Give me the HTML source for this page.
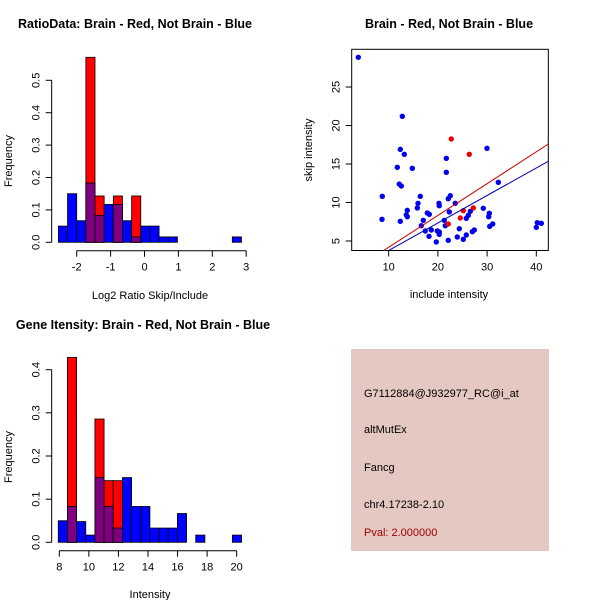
<!DOCTYPE html>
<html><head><meta charset="utf-8"><style>
html,body{margin:0;padding:0;background:#fff;}
svg{display:block;font-family:"Liberation Sans",sans-serif;}
</style></head><body>
<svg id="c" width="600" height="600" xmlns="http://www.w3.org/2000/svg">
<text x="135" y="28" font-size="12.5" font-weight="bold" text-anchor="middle">RatioData: Brain - Red, Not Brain - Blue</text>
<text x="449" y="28" font-size="12.5" font-weight="bold" text-anchor="middle">Brain - Red, Not Brain - Blue</text>
<text x="143" y="329" font-size="12.5" font-weight="bold" text-anchor="middle">Gene Itensity: Brain - Red, Not Brain - Blue</text>
<text x="150" y="299" font-size="11" text-anchor="middle">Log2 Ratio Skip/Include</text>
<text x="449" y="298" font-size="11" text-anchor="middle">include intensity</text>
<text x="150" y="598" font-size="11" text-anchor="middle">Intensity</text>
<text transform="translate(12,161) rotate(-90)" font-size="11" text-anchor="middle">Frequency</text>
<text transform="translate(12,457) rotate(-90)" font-size="11" text-anchor="middle">Frequency</text>
<text transform="translate(312,150) rotate(-90)" font-size="11" text-anchor="middle">skip intensity</text>
<rect x="351" y="349" width="198" height="202" fill="#e6c8c2"/>
<text x="364" y="397" font-size="11">G7112884@J932977_RC@i_at</text>
<text x="364" y="433" font-size="11">altMutEx</text>
<text x="364" y="471" font-size="11">Fancg</text>
<text x="364" y="508" font-size="11">chr4.17238-2.10</text>
<text x="364" y="536" font-size="11" fill="#a00000">Pval: 2.000000</text>
</svg>
<script>
// Ratio histogram data
const ratioStart = -2.54, ratioBinWidth = 0.27;
const ratioBlue = [0.05,0.15,0.0667,0.183,0.083,0.117,0.117,0.0667,0.0167,0.05,0.05,0.0167,0.0167,0,0,0,0,0,0,0.0167];
const ratioRed = [0,0,0,0.571,0.143,0,0.143,0,0.143,0,0,0,0,0,0,0,0,0,0,0];
const ratioXTicks = [-2,-1,0,1,2,3];
const ratioYTicks = [0,0.1,0.2,0.3,0.4,0.5];
// Intensity histogram data
const intStart = 7.93, intBinWidth = 0.62;
const intBlue = [0.05,0.083,0.048,0.0167,0.15,0.083,0.033,0.15,0.083,0.083,0.033,0.033,0.033,0.0667,0,0.0167,0,0,0,0.0167];
const intRed = [0,0.4286,0,0,0.2857,0.1429,0.1429,0,0,0,0,0,0,0,0,0,0,0,0,0];
const intXTicks = [8,10,12,14,16,18,20];
const intYTicks = [0,0.1,0.2,0.3,0.4];
// Scatter data
const blueX = [3.82,12.77,12.36,13.17,11.75,14.8,12.15,12.56,8.7,16.42,8.64,12.36,15.96,15.82,13.78,13.58,13.78,17.85,18.25,17.03,16.63,17.44,18.66,18.19,19.67,19.88,20.28,20.28,20.22,20.28,21.3,21.5,21.71,21.71,22.11,22.52,23.54,22.32,22.11,23.94,24.35,25.16,25.77,25.77,26.18,26.59,27,27.4,29.98,32.28,29.23,30.45,30.33,30.53,31.14,40,40.2,41.02];
const blueY = [28.86,21.19,16.9,16.26,14.57,14.44,12.4,12.14,10.8,10.8,7.82,7.56,9.9,9.29,8.98,8.38,8.16,8.64,8.47,7.69,6.99,6.3,6.43,5.61,4.87,6.3,6.17,5.87,9.9,9.58,7.69,6.99,15.74,13.92,10.49,10.88,9.9,8.77,5.09,5.52,6.6,5.22,5.78,7.95,8.34,8.86,6.21,6.43,17.04,12.62,9.25,8.6,8.16,6.9,7.21,6.77,7.38,7.3];
const redX = [22.72,26.38,27.2,25.16,24.55,22.11];
const redY = [18.25,16.26,9.29,8.94,7.99,7.21];
const lineRed = [0.06,0.413];  // intercept, slope
const lineBlue = [0.2,0.357];
const scXTicks = [10,20,30,40];
const scYTicks = [5,10,15,20,25];

const svg = document.getElementById('c');
const NS = 'http://www.w3.org/2000/svg';
function mk(tag, attrs, parent){
  const e = document.createElementNS(NS, tag);
  for (const k in attrs) e.setAttribute(k, attrs[k]);
  (parent||svg).appendChild(e);
  return e;
}

function hist(opt){
  const {start,bw,blue,red,xt,yt,sx,sy,x0,axY,prefix} = opt;
  const g = mk('g',{});
  
  
  for (let i=0;i<blue.length;i++){
    const a = sx(start+i*bw), b = sx(start+(i+1)*bw);
    const bv = blue[i], rv = red[i], ov = Math.min(bv,rv);
    if (bv>0){
      const r = mk('rect',{x:a,y:sy(bv),width:b-a,height:sy(0)-sy(bv),fill:'#0000ff',stroke:'#000','stroke-width':0.8},g);
      
      
    }
    if (rv>0){
      const r = mk('rect',{x:a,y:sy(rv),width:b-a,height:sy(0)-sy(rv),fill:'#ff0000',stroke:'#000','stroke-width':0.8},g);
      
      
    }
    if (ov>0){
      const r = mk('rect',{x:a,y:sy(ov),width:b-a,height:sy(0)-sy(ov),fill:'#7f007f',stroke:'#000','stroke-width':0.8},g);
      
      
    }
  }
  // y axis
  const ya = mk('line',{x1:x0,x2:x0,y1:sy(yt[0]),y2:sy(yt[yt.length-1]),stroke:'#000'},g);
  
  
  yt.forEach(v=>{
    mk('line',{x1:x0-6,x2:x0,y1:sy(v),y2:sy(v),stroke:'#000'},g);
    const t = mk('text',{transform:`translate(${x0-12},${sy(v)}) rotate(-90)`,'font-size':11,'text-anchor':'middle'},g);
    t.textContent = v.toFixed(1);
    
    
  });
  const xa = mk('line',{x1:sx(xt[0]),x2:sx(xt[xt.length-1]),y1:axY,y2:axY,stroke:'#000'},g);
  
  
  xt.forEach(v=>{
    mk('line',{x1:sx(v),x2:sx(v),y1:axY,y2:axY+6,stroke:'#000'},g);
    const t = mk('text',{x:sx(v),y:axY+20,'font-size':11,'text-anchor':'middle'},g);
    t.textContent = v;
    
    
  });
}

hist({start:ratioStart,bw:ratioBinWidth,blue:ratioBlue,red:ratioRed,xt:ratioXTicks,yt:ratioYTicks,
  sx:v=>76.7+(v+2)*33.9, sy:v=>242.3-v*324, x0:51.7, axY:250.7, prefix:'ratio'});
hist({start:intStart,bw:intBinWidth,blue:intBlue,red:intRed,xt:intXTicks,yt:intYTicks,
  sx:v=>59.3+(v-8)*14.78, sy:v=>542.3-v*431.5, x0:51.7, axY:550.7, prefix:'intensity'});

// scatter
const L=351.7,R=548.3,T=49.3,B=250.5;
const sx = v=>388.7+(v-10)*4.92;
const sy = v=>241-(v-5)*7.7;
const sg = mk('g',{});


mk('clipPath',{id:'scclip'},sg).appendChild(Object.assign(document.createElementNS(NS,'rect')));
document.querySelector('#scclip rect').setAttribute('x',L);
document.querySelector('#scclip rect').setAttribute('y',T);
document.querySelector('#scclip rect').setAttribute('width',R-L);
document.querySelector('#scclip rect').setAttribute('height',B-T);
const box = mk('rect',{x:L,y:T,width:R-L,height:B-T,fill:'none',stroke:'#000'},sg);


blueX.forEach((x,i)=>{
  const c = mk('circle',{cx:sx(x),cy:sy(blueY[i]),r:2.7,fill:'#0000ee'},sg);
  
  
});
redX.forEach((x,i)=>{
  const c = mk('circle',{cx:sx(x),cy:sy(redY[i]),r:2.7,fill:'#ee0000'},sg);
  
  
});
[[lineRed,'#cc0000','red-fit-line'],[lineBlue,'#0000aa','blue-fit-line']].forEach(([p,col,nm])=>{
  const x1=0,x2=50;
  const l = mk('line',{x1:sx(x1),y1:sy(p[0]+p[1]*x1),x2:sx(x2),y2:sy(p[0]+p[1]*x2),stroke:col,'stroke-width':1,'clip-path':'url(#scclip)'},sg);
  
  
});
scXTicks.forEach(v=>{
  mk('line',{x1:sx(v),x2:sx(v),y1:B,y2:B+6,stroke:'#000'},sg);
  const t = mk('text',{x:sx(v),y:B+20,'font-size':11,'text-anchor':'middle'},sg);
  t.textContent = v;
  
  
});
scYTicks.forEach(v=>{
  mk('line',{x1:L-6,x2:L,y1:sy(v),y2:sy(v),stroke:'#000'},sg);
  const t = mk('text',{transform:`translate(${L-12},${sy(v)}) rotate(-90)`,'font-size':11,'text-anchor':'middle'},sg);
  t.textContent = v;
  
  
});
</script>
</body></html>
